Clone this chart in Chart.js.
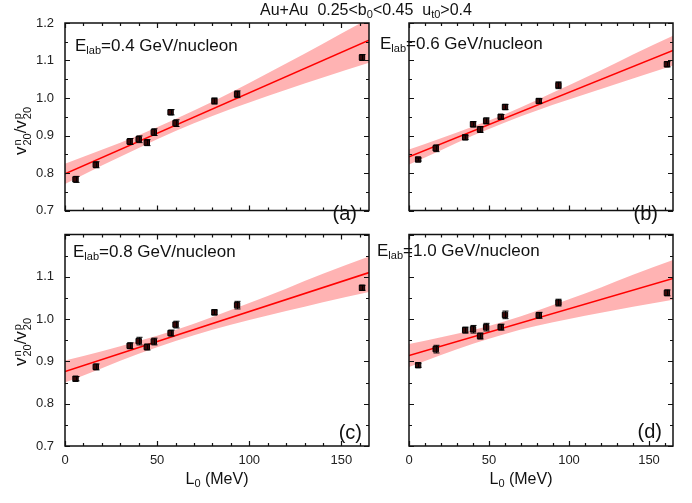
<!DOCTYPE html>
<html>
<head>
<meta charset="utf-8">
<script src="https://cdn.jsdelivr.net/npm/chart.js@4/dist/chart.umd.min.js"></script>
<style>
  html, body { margin: 0; padding: 0; background: #fff; }
  #fig { position: relative; width: 692px; height: 503px; overflow: hidden;
         font-family: "Liberation Sans", Arial, sans-serif; color: #111; }
  #fig canvas { position: absolute; left: 0; top: 0; }
  .txt { position: absolute; white-space: pre; line-height: 1; }
  .title { font-size: 16px; left: 260px; top: 2px; }
  .elab { font-size: 17px; }
  .elab sub, .title sub { font-size: 11px; vertical-align: -3px; line-height: 0; }
  .tag { font-size: 20px; }
  .xt { font-size: 16px; width: 304px; text-align: center; }
  .xt sub { font-size: 11px; vertical-align: -3px; line-height: 0; }
  .yt { font-size: 17px; transform: translate(-50%, -50%) rotate(-90deg); }
  .ss { display: inline-flex; flex-direction: column; font-size: 11px; line-height: 10px;
        vertical-align: 5px; text-align: left; margin-left: 1px; }
</style>
</head>
<body>
<div id="fig">
  <canvas id="cA" width="692" height="503"></canvas>
  <canvas id="cB" width="692" height="503"></canvas>
  <canvas id="cC" width="692" height="503"></canvas>
  <canvas id="cD" width="692" height="503"></canvas>

  <div class="txt title">Au+Au  0.25&lt;b<sub>0</sub>&lt;0.45  u<sub>t0</sub>&gt;0.4</div>

  <div class="txt elab" style="left:75px;top:37px;">E<sub>lab</sub>=0.4 GeV/nucleon</div>
  <div class="txt elab" style="left:380px;top:35px;">E<sub>lab</sub>=0.6 GeV/nucleon</div>
  <div class="txt elab" style="left:73px;top:243px;">E<sub>lab</sub>=0.8 GeV/nucleon</div>
  <div class="txt elab" style="left:377px;top:242px;">E<sub>lab</sub>=1.0 GeV/nucleon</div>

  <div class="txt tag" style="right:335px;top:203px;">(a)</div>
  <div class="txt tag" style="right:34px;top:203px;">(b)</div>
  <div class="txt tag" style="right:330px;top:422px;">(c)</div>
  <div class="txt tag" style="right:30px;top:421px;">(d)</div>

  <div class="txt xt" style="left:65px;top:471px;">L<sub>0</sub> (MeV)</div>
  <div class="txt xt" style="left:369px;top:471px;">L<sub>0</sub> (MeV)</div>

  <div class="txt yt" style="left:22px;top:131px;">v<span class="ss"><span>n</span><span>20</span></span>/v<span class="ss"><span>p</span><span>20</span></span></div>
  <div class="txt yt" style="left:22px;top:342px;">v<span class="ss"><span>n</span><span>20</span></span>/v<span class="ss"><span>p</span><span>20</span></span></div>
</div>

<script>
// ── Data ──────────────────────────────────────────────────────────────────────

const L0 = [5.7, 16.7, 35.1, 40.0, 44.4, 48.2, 57.3, 60.0, 81.1, 93.4, 161.2];

const ratioA = [0.783, 0.822, 0.884, 0.890, 0.881, 0.909, 0.962, 0.933, 0.992, 1.010, 1.108];
const ratioB = [0.836, 0.866, 0.895, 0.930, 0.916, 0.939, 0.950, 0.976, 0.992, 1.034, 1.090];
const ratioC = [0.859, 0.887, 0.937, 0.948, 0.934, 0.947, 0.967, 0.987, 1.016, 1.033, 1.074];
const ratioD = [0.891, 0.929, 0.974, 0.976, 0.960, 0.981, 0.981, 1.010, 1.009, 1.039, 1.062];

const errA = [0.008, 0.008, 0.008, 0.009, 0.008, 0.009, 0.007, 0.009, 0.008, 0.009, 0.008];
const errB = [0.004, 0.009, 0.006, 0.007, 0.008, 0.008, 0.006, 0.007, 0.006, 0.009, 0.007];
const errC = [0.005, 0.007, 0.007, 0.009, 0.007, 0.008, 0.007, 0.008, 0.006, 0.009, 0.006];
const errD = [0.005, 0.009, 0.007, 0.009, 0.007, 0.009, 0.007, 0.009, 0.007, 0.008, 0.007];

// fit lines (value at L0 = 0 and at the right edge)
const fitX = [0, 165];
const fitA = [0.798, 1.154];
const fitB = [0.843, 1.127];
const fitC = [0.876, 1.110];
const fitD = [0.914, 1.096];

// confidence bands
const bandX   = [0, 20, 40, 60, 80, 100, 120, 140, 165];
const bandHiA = [0.825, 0.862, 0.901, 0.944, 0.990, 1.040, 1.092, 1.145, 1.212];
const bandLoA = [0.771, 0.820, 0.867, 0.912, 0.952, 0.988, 1.022, 1.055, 1.094];
const bandHiB = [0.863, 0.893, 0.924, 0.957, 0.995, 1.034, 1.074, 1.116, 1.166];
const bandLoB = [0.823, 0.861, 0.900, 0.935, 0.967, 0.996, 1.024, 1.052, 1.087];
const bandHiC = [0.902, 0.924, 0.948, 0.974, 1.005, 1.038, 1.072, 1.107, 1.148];
const bandLoC = [0.850, 0.884, 0.918, 0.948, 0.975, 0.998, 1.019, 1.040, 1.064];
const bandHiD = [0.941, 0.957, 0.974, 0.995, 1.020, 1.047, 1.075, 1.105, 1.140];
const bandLoD = [0.887, 0.915, 0.942, 0.965, 0.984, 1.000, 1.015, 1.029, 1.046];

const xTicks = [0, 50, 100, 150];
const yTicks = [0.7, 0.8, 0.9, 1.0, 1.1, 1.2];
const xMinorStep = 10;
const yMinorStep = 0.05;

// ── Styling ───────────────────────────────────────────────────────────────────
const FONT      = '"Liberation Sans", Arial, sans-serif';
const RED       = '#ff0000';
const BAND      = '#ffb3b3';
const MARKER    = '#3a0808';
const X_MIN = 0, X_MAX = 165, Y_MIN = 0.7, Y_MAX = 1.2;

// ── Plugins ───────────────────────────────────────────────────────────────────
const errorBars = {
  id: 'errorBars',
  afterDatasetsDraw(chart) {
    const { ctx, scales: { x, y } } = chart;
    chart.data.datasets.forEach(ds => {
      if (!ds.errors) return;
      ctx.save();
      ctx.strokeStyle = '#000';
      ctx.lineWidth = 1;
      ctx.beginPath();
      ds.data.forEach((p, i) => {
        const px  = Math.round(x.getPixelForValue(p.x)) + 0.5;
        const top = y.getPixelForValue(p.y + ds.errors[i]);
        const bot = y.getPixelForValue(p.y - ds.errors[i]);
        ctx.moveTo(px, top);     ctx.lineTo(px, bot);
        ctx.moveTo(px - 3, top); ctx.lineTo(px + 3, top);
        ctx.moveTo(px - 3, bot); ctx.lineTo(px + 3, bot);
      });
      ctx.stroke();
      ctx.restore();
    });
  }
};

const frame = {
  id: 'frame',
  afterDraw(chart) {
    const { ctx, chartArea: a, scales: { x, y } } = chart;
    ctx.save();
    ctx.strokeStyle = '#111';
    ctx.lineWidth = 1.5;
    ctx.strokeRect(a.left, a.top, a.right - a.left, a.bottom - a.top);

    ctx.lineWidth = 1.2;
    ctx.beginPath();
    for (let v = X_MIN; v <= X_MAX + 1e-9; v += xMinorStep) {
      const px  = Math.round(x.getPixelForValue(v)) + 0.5;
      const len = xTicks.includes(v) ? 5 : 3;
      ctx.moveTo(px, a.bottom); ctx.lineTo(px, a.bottom - len);
      ctx.moveTo(px, a.top);    ctx.lineTo(px, a.top + len);
    }
    const n = Math.round((Y_MAX - Y_MIN) / yMinorStep);
    for (let k = 0; k <= n; k++) {
      const py  = Math.round(y.getPixelForValue(Y_MIN + k * yMinorStep)) + 0.5;
      const len = k % 2 === 0 ? 5 : 3;
      ctx.moveTo(a.left, py);  ctx.lineTo(a.left + len, py);
      ctx.moveTo(a.right, py); ctx.lineTo(a.right - len, py);
    }
    ctx.stroke();
    ctx.restore();
  }
};

// ── Panel builder ─────────────────────────────────────────────────────────────
function makePanel(id, ratio, errs, fit, bandHi, bandLo, opt) {
  const pts  = (xs, ys) => xs.map((v, i) => ({ x: v, y: ys[i] }));
  const tickFont = { family: FONT, size: 13 };

  new Chart(document.getElementById(id), {
    type: 'scatter',
    data: {
      datasets: [
        { data: pts(L0, ratio), errors: errs, pointStyle: 'rect', pointRadius: 3.8,
          backgroundColor: MARKER, borderColor: '#000', borderWidth: 1, showLine: false },
        { data: pts(fitX, fit), showLine: true, pointRadius: 0, borderColor: RED, borderWidth: 1.6 },
        { data: pts(bandX, bandHi), showLine: true, pointRadius: 0, borderWidth: 0,
          borderColor: 'rgba(0,0,0,0)', backgroundColor: BAND, fill: '+1', cubicInterpolationMode: 'monotone' },
        { data: pts(bandX, bandLo), showLine: true, pointRadius: 0, borderWidth: 0,
          borderColor: 'rgba(0,0,0,0)', cubicInterpolationMode: 'monotone' },
      ]
    },
    options: {
      responsive: false, animation: false, devicePixelRatio: 1,
      layout: { padding: opt.pad },
      plugins: { legend: { display: false }, tooltip: { enabled: false } },
      scales: {
        x: {
          type: 'linear', min: X_MIN, max: X_MAX, display: opt.showX,
          afterBuildTicks: s => { s.ticks = xTicks.map(v => ({ value: v })); },
          afterFit: s => { s.height = 24; },
          grid: { display: false, drawTicks: false }, border: { display: false },
          ticks: { font: tickFont, color: '#222', padding: 7, maxRotation: 0, autoSkip: false },
        },
        y: {
          type: 'linear', min: Y_MIN, max: Y_MAX, display: opt.showY,
          afterBuildTicks: s => { s.ticks = yTicks.map(v => ({ value: v })); },
          afterFit: s => { s.width = 40; },
          grid: { display: false, drawTicks: false }, border: { display: false },
          ticks: {
            font: tickFont, color: '#222', padding: 11, autoSkip: false,
            callback: v => (opt.hideTop && v > 1.15) ? '' : v.toFixed(1),
          },
        },
      }
    },
    plugins: [errorBars, frame]
  });
}

// ── Four panels ───────────────────────────────────────────────────────────────
makePanel('cA', ratioA, errA, fitA, bandHiA, bandLoA,
  { showX: false, showY: true,  hideTop: false, pad: { left: 25,  top: 23,    right: 323, bottom: 268.5 } });
makePanel('cB', ratioB, errB, fitB, bandHiB, bandLoB,
  { showX: false, showY: false, hideTop: false, pad: { left: 369, top: 23,    right: 19,  bottom: 268.5 } });
makePanel('cC', ratioC, errC, fitC, bandHiC, bandLoC,
  { showX: true,  showY: true,  hideTop: true,  pad: { left: 25,  top: 234.5, right: 323, bottom: 33 } });
makePanel('cD', ratioD, errD, fitD, bandHiD, bandLoD,
  { showX: true,  showY: false, hideTop: true,  pad: { left: 369, top: 234.5, right: 19,  bottom: 33 } });
</script>
</body>
</html>
